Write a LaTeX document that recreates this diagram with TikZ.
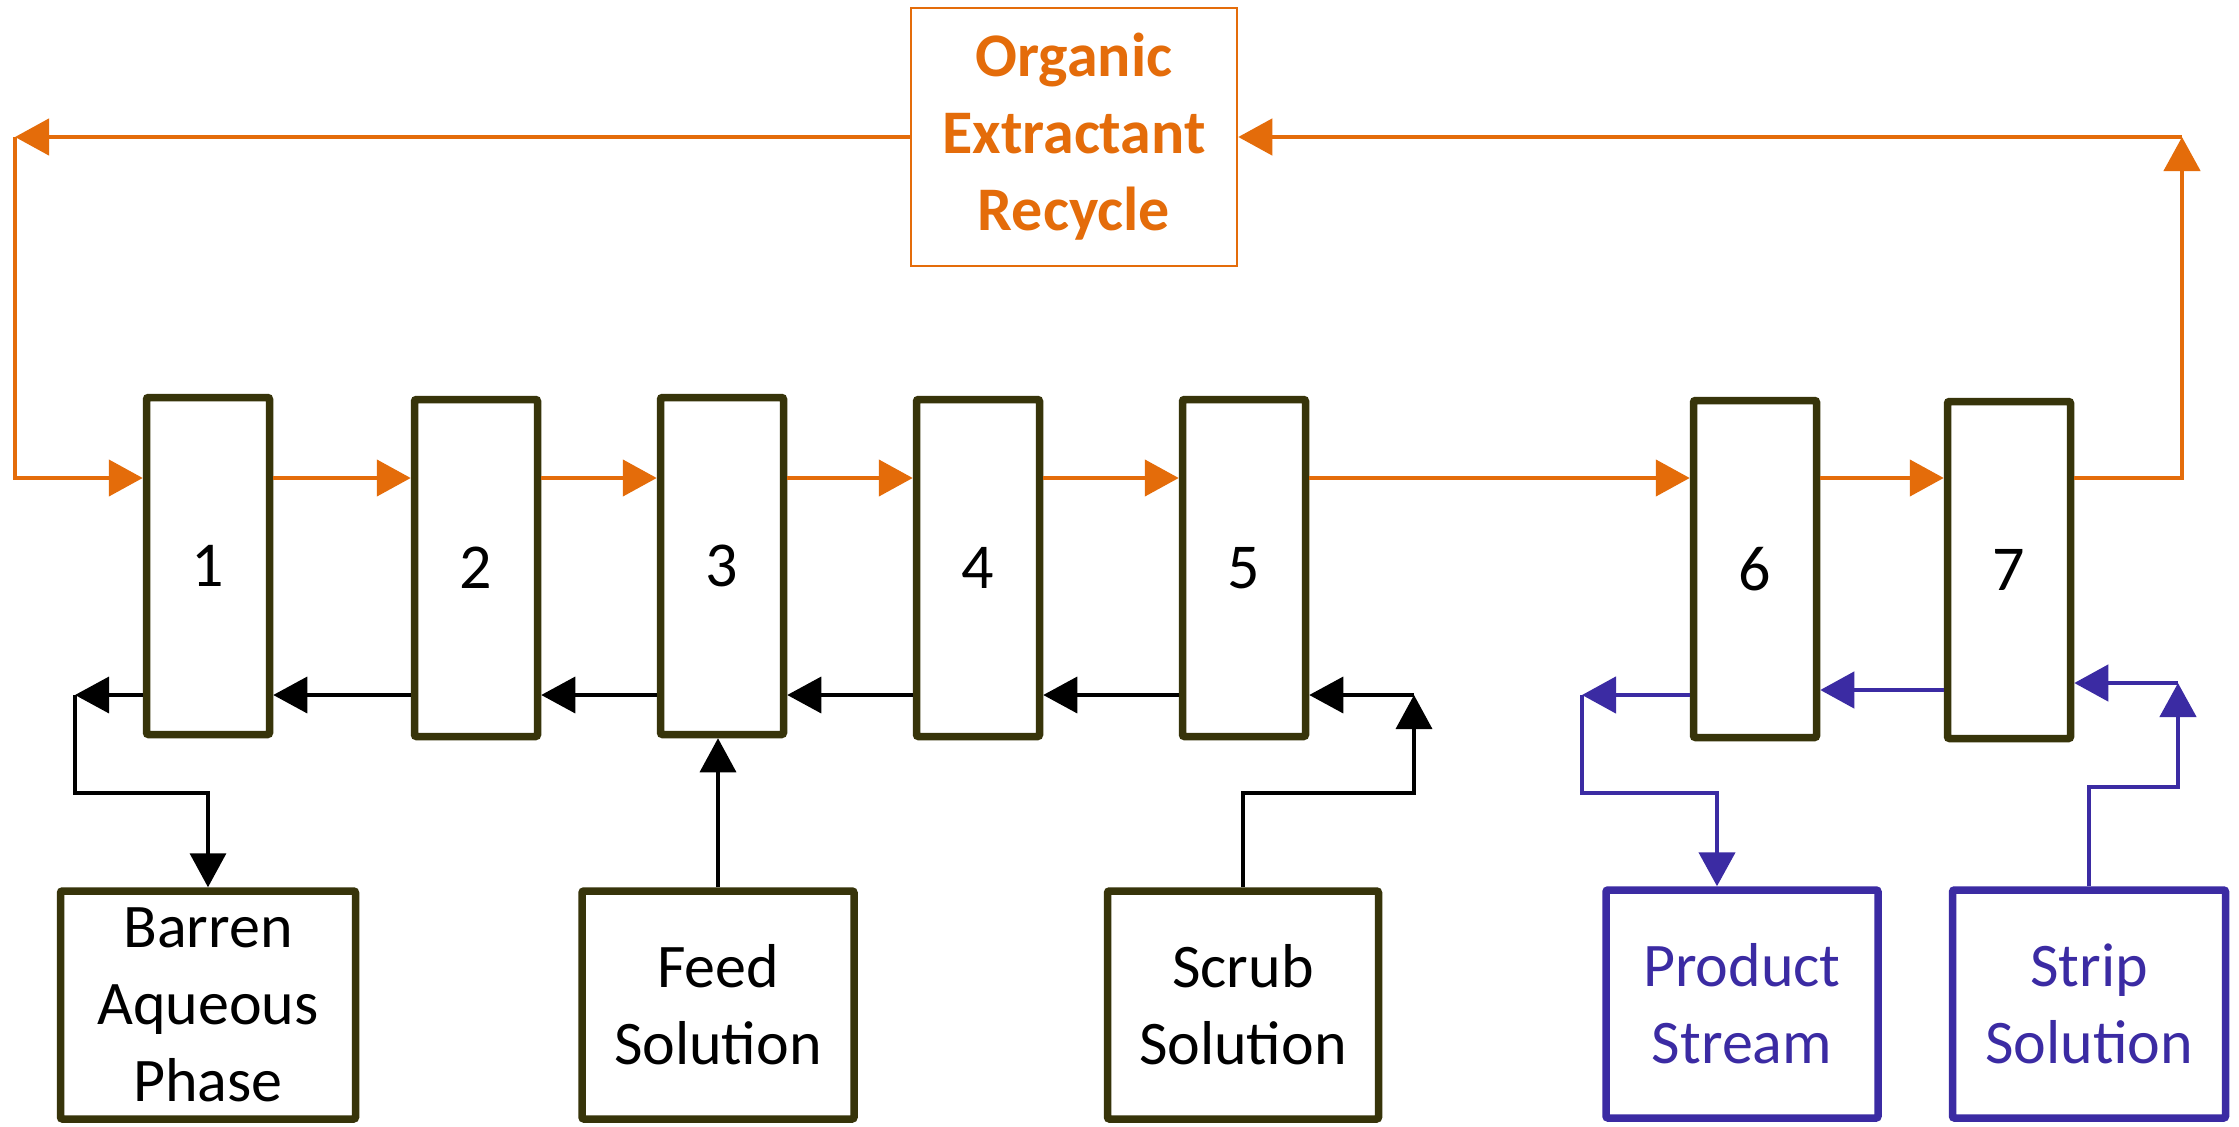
\documentclass[tikz,border=0pt]{standalone}
\usepackage{fontspec}
\setmainfont{Carlito}
\usetikzlibrary{arrows.meta}
\definecolor{orgline}{HTML}{E46C0A}
\definecolor{stageedge}{HTML}{37340A}
\definecolor{stripblue}{HTML}{3B2BA3}
\tikzset{
  stage/.style={draw=stageedge, line width=7.5pt, rounded corners=2pt,
    minimum width=123pt, minimum height=337pt, inner sep=0pt,
    font=\fontsize{64}{78}\selectfont},
  streambox/.style={draw=stageedge, line width=7.5pt, rounded corners=2pt,
    inner sep=0pt, align=center, minimum height=228pt,
    font=\fontsize{62}{77}\selectfont},
  bluebox/.style={streambox, draw=stripblue, text=stripblue},
  recbox/.style={draw=orgline, line width=2.5pt, text=orgline, align=center,
    inner sep=0pt, minimum width=326pt, minimum height=258pt,
    font=\bfseries\fontsize{62}{77}\selectfont},
  headed/.style={-{Triangle[length=34pt,width=36pt]}},
  orgflow/.style={headed, draw=orgline, line width=4.5pt},
  aqflow/.style={headed, draw=black, line width=3.5pt},
  blueflow/.style={headed, draw=stripblue, line width=4.5pt},
}
\begin{document}
\begin{tikzpicture}[x=1pt,y=-1pt]
\fill[white] (0,0) rectangle (2239,1127);
\useasboundingbox (0,0) rectangle (2239,1127);

% flow levels
\coordinate (oy) at (0,478);
\coordinate (ay) at (0,695);
\coordinate (by) at (0,690);

% extraction, scrub and strip stages
\node[stage] (s1) at (208,566) {1};
\node[stage] (s2) at (476,568) {2};
\node[stage] (s3) at (722,566) {3};
\node[stage] (s4) at (978,568) {4};
\node[stage] (s5) at (1244,568) {5};
\node[stage] (s6) at (1755,569) {6};
\node[stage] (s7) at (2009,570) {7};

% external streams
\node[recbox] (rec) at (1074,137) {Organic\\Extractant\\Recycle};
\node[streambox, minimum width=295pt] (barren) at (208,1005) {Barren\\Aqueous\\Phase};
\node[streambox, minimum width=272pt] (feed) at (718,1005) {Feed\\Solution};
\node[streambox, minimum width=271pt] (scrub) at (1243,1005) {Scrub\\Solution};
\node[bluebox, minimum width=272pt] (prod) at (1742,1004) {Product\\Stream};
\node[bluebox, minimum width=273pt] (strip) at (2089,1004) {Strip\\Solution};

% corner points of the elbow connectors
\coordinate (cTL) at (15,137);
\coordinate (cTR) at (2182,137);
\coordinate (cB) at (75,695);
\coordinate (cS) at (1414,695);
\coordinate (cP) at (1582,695);
\coordinate (cSt) at (2178,683);
\coordinate (pIn) at (1717,0);
\coordinate (lowrun) at (0,793);
\coordinate (striprun) at (0,787);

% organic phase
\draw[orgflow] (rec.west) -- (cTL);
\draw[orgflow] (cTL) |- (s1.west |- oy);
\draw[orgflow] (s1.east |- oy) -- (s2.west |- oy);
\draw[orgflow] (s2.east |- oy) -- (s3.west |- oy);
\draw[orgflow] (s3.east |- oy) -- (s4.west |- oy);
\draw[orgflow] (s4.east |- oy) -- (s5.west |- oy);
\draw[orgflow] (s5.east |- oy) -- (s6.west |- oy);
\draw[orgflow] (s6.east |- oy) -- (s7.west |- oy);
\draw[orgflow] (s7.east |- oy) -| (cTR);
\draw[orgflow] (cTR) -- (rec.east);

% aqueous phase
\draw[aqflow] (s2.west |- ay) -- (s1.east |- ay);
\draw[aqflow] (s3.west |- ay) -- (s2.east |- ay);
\draw[aqflow] (s4.west |- ay) -- (s3.east |- ay);
\draw[aqflow] (s5.west |- ay) -- (s4.east |- ay);
\draw[aqflow] (s1.west |- ay) -- (cB);
\draw[aqflow] (cB) -- (cB |- lowrun) -| (barren.north);
\draw[aqflow] (feed.north) -- (feed.north |- s3.south);
\draw[aqflow] (scrub.north) -- (scrub.north |- lowrun) -| (cS);
\draw[aqflow] (cS) -- (s5.east |- ay);

% strip liquor
\draw[blueflow] (s7.west |- by) -- (s6.east |- by);
\draw[blueflow] (s6.west |- ay) -- (cP);
\draw[blueflow] (cP) -- (cP |- lowrun) -| (pIn |- prod.north);
\draw[blueflow] (strip.north) -- (strip.north |- striprun) -| (cSt);
\draw[blueflow] (cSt) -- (s7.east |- cSt);
\end{tikzpicture}
\end{document}
